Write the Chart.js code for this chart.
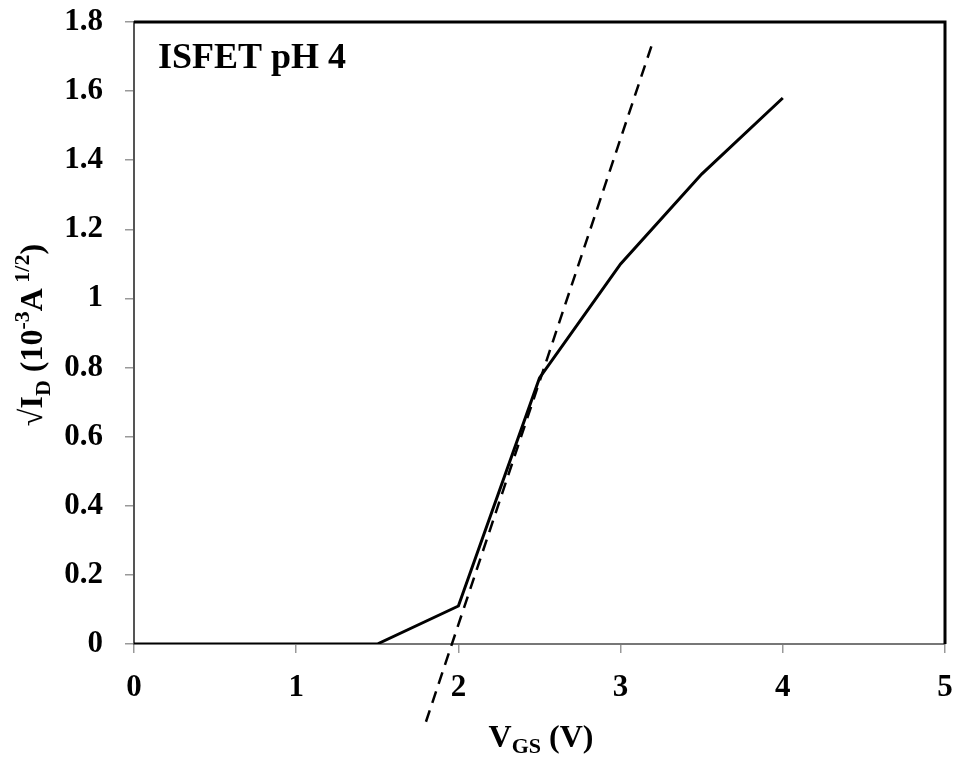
<!DOCTYPE html>
<html>
<head>
<meta charset="utf-8">
<script src="https://cdn.jsdelivr.net/npm/chart.js@4.4.0/dist/chart.umd.min.js"></script>
<style>
  html, body { margin: 0; padding: 0; background: #fff; }
  #wrap { width: 957px; height: 760px; }
</style>
</head>
<body>
<div id="wrap"><canvas id="chart" width="957" height="760"></canvas></div>
<script>
// Дані з графіка
const vgs = [0, 1.5, 2, 2.5, 3, 3.5, 4];
const sqrtId = [0, 0, 0.11, 0.77, 1.10, 1.36, 1.58];
// пунктирна дотична (кінці)
const fitX = [1.8, 3.19];
const fitY = [-0.225, 1.73];
const xTicks = [0, 1, 2, 3, 4, 5];
const yTicks = [0, 0.2, 0.4, 0.6, 0.8, 1, 1.2, 1.4, 1.6, 1.8];
const label = "ISFET pH 4";

const serif = "'Liberation Serif', 'Times New Roman', serif";

// Підписи осей з індексами + рамка зверху/справа
const extras = {
  id: "extras",
  afterDraw(chart) {
    const { ctx, chartArea: a } = chart;
    ctx.save();
    // рамка
    ctx.strokeStyle = "#000";
    ctx.lineWidth = 3;
    ctx.beginPath();
    ctx.moveTo(a.left, a.top);
    ctx.lineTo(a.right, a.top);
    ctx.lineTo(a.right, a.bottom);
    ctx.stroke();

    ctx.fillStyle = "#000";
    ctx.textBaseline = "alphabetic";

    // напис у полі графіка
    ctx.font = "bold 36px " + serif;
    ctx.textAlign = "left";
    ctx.fillText(label, 158, 68);

    // підпис осі X: V_GS (V)
    const big = "bold 32px " + serif, small = "bold 22px " + serif;
    const parts = [["V", big, 0], ["GS", small, 6], [" (V)", big, 0]];
    drawParts(ctx, parts, 541, 747);

    // підпис осі Y (повернутий)
    ctx.translate(42, 335);
    ctx.rotate(-Math.PI / 2);
    const yb = "bold 32px " + serif, ys = "bold 22px " + serif;
    const yparts = [
      ["\u221A", "32px " + serif, 0],
      ["I", yb, 0], ["D", ys, 8],
      [" (10", yb, 0], ["-3", ys, -13],
      ["A", yb, 0], [" 1/2", ys, -13],
      [")", yb, 0]
    ];
    drawParts(ctx, yparts, 0, 0);
    ctx.restore();
  }
};

function drawParts(ctx, parts, cx, y) {
  let total = 0;
  parts.forEach(p => { ctx.font = p[1]; total += ctx.measureText(p[0]).width; });
  let x = cx - total / 2;
  ctx.textAlign = "left";
  parts.forEach(p => {
    ctx.font = p[1];
    ctx.fillText(p[0], x, y + p[2]);
    x += ctx.measureText(p[0]).width;
  });
}

const chart = new Chart(document.getElementById("chart"), {
  type: "scatter",
  data: {
    datasets: [
      {
        data: vgs.map((x, i) => ({ x, y: sqrtId[i] })),
        showLine: true,
        borderColor: "#000",
        borderWidth: 3,
        pointRadius: 0,
        tension: 0
      },
      {
        data: fitX.map((x, i) => ({ x, y: fitY[i] })),
        showLine: true,
        borderColor: "#000",
        borderWidth: 2.5,
        borderDash: [12, 8],
        pointRadius: 0,
        clip: false
      }
    ]
  },
  options: {
    responsive: false,
    animation: false,
    layout: { padding: { top: 22, right: 12, left: 0, bottom: 0 } },
    plugins: { legend: { display: false }, tooltip: { enabled: false } },
    scales: {
      x: {
        type: "linear",
        min: 0, max: 5,
        afterBuildTicks: s => { s.ticks = xTicks.map(v => ({ value: v })); },
        afterFit: s => { s.height = 116; s.paddingLeft = 0; s.paddingRight = 0; },
        grid: { drawOnChartArea: false, drawTicks: true, tickLength: 9, color: "#999", lineWidth: 1.5 },
        border: { color: "#777", width: 2 },
        ticks: {
          color: "#000",
          padding: 16,
          font: { family: serif, size: 31, weight: "bold" },
          callback: v => v
        }
      },
      y: {
        type: "linear",
        min: 0, max: 1.8,
        afterBuildTicks: s => { s.ticks = yTicks.map(v => ({ value: v })); },
        afterFit: s => { s.width = 134; s.paddingTop = 0; s.paddingBottom = 0; },
        grid: { drawOnChartArea: false, drawTicks: true, tickLength: 9, color: "#999", lineWidth: 1.5 },
        border: { color: "#555", width: 2 },
        ticks: {
          color: "#000",
          padding: 22,
          font: { family: serif, size: 31, weight: "bold" },
          callback: v => v
        }
      }
    }
  },
  plugins: [extras]
});
</script>
</body>
</html>
